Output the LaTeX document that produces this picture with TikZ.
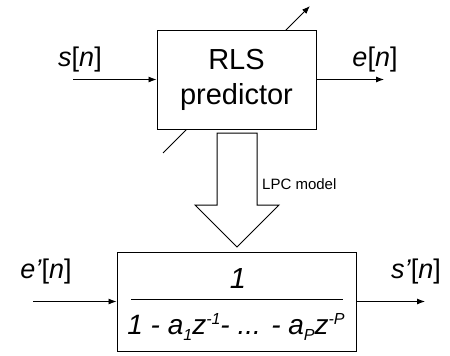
\documentclass[tikz,border=0pt]{standalone}
\usepackage{fontspec}
\setmainfont{Liberation Sans}
\usetikzlibrary{arrows.meta}
\newcommand\lowidx[1]{\raisebox{-6pt}{\fontsize{16}{16}\selectfont #1}}
\newcommand\highidx[1]{\raisebox{9.5pt}{\fontsize{16}{16}\selectfont #1}}
\begin{document}
\begin{tikzpicture}[x=1pt,y=-1pt,
  blk/.style={draw, fill=white, line width=1pt, inner sep=0pt},
  lbl/.style={font=\fontsize{27}{32}\selectfont, inner sep=0pt, anchor=base},
  sig/.style={line width=0.9pt, -{Latex[length=8pt,width=6pt]}},
  fat/.style={draw, fill=white, line width=1pt, line join=miter},
]
\useasboundingbox (0,0) rectangle (450,356);
% adaptation arrow (behind the RLS block)
\coordinate (adjA) at (163,153);
\coordinate (adjB) at (310,6);
\draw[sig] (adjA) -- (adjB);
% RLS block
\node[blk, minimum width=159pt, minimum height=99pt, align=center,
      font=\fontsize{29}{35}\selectfont] (rls) at (236.5,79.5) {RLS\\predictor};
\node[lbl] (sn) at (80,66) {\textit{s}[\textit{n}]};
\node[lbl] (en) at (375,66) {\textit{e}[\textit{n}]};
\coordinate (sin) at (73,79.5);
\coordinate (eout) at (384,79.5);
\draw[sig] (sin) -- (rls.west);
\draw[sig] (rls.east) -- (eout);
% LPC model hollow arrow
\draw[fat] (217,133) -- (257,133) -- (257,205) -- (279,205) -- (237,247)
  -- (195,205) -- (217,205) -- cycle;
\node[font=\fontsize{15}{18}\selectfont, inner sep=0pt, anchor=west] (lpc) at (262,184) {LPC model};
% synthesis filter
\node[blk, minimum width=239pt, minimum height=99pt] (filt) at (236.5,301.5) {};
\node[lbl, font=\fontsize{29}{34}\selectfont\itshape] (num) at (238,288) {1};
\node[lbl, font=\fontsize{28}{34}\selectfont\itshape] (den) at (236,334)
  {1 - a\lowidx{1}z\highidx{-1}- ... - a\lowidx{P}z\highidx{-P}};
\coordinate (barL) at (131,299);
\coordinate (barR) at (343,299);
\draw[line width=1pt] (barL) -- (barR);
\node[lbl] (epn) at (46,278) {\textit{e’}[\textit{n}]};
\node[lbl] (spn) at (416,278) {\textit{s’}[\textit{n}]};
\coordinate (fin) at (33,301.5);
\coordinate (fout) at (425,301.5);
\draw[sig] (fin) -- (filt.west);
\draw[sig] (filt.east) -- (fout);
\end{tikzpicture}
\end{document}
